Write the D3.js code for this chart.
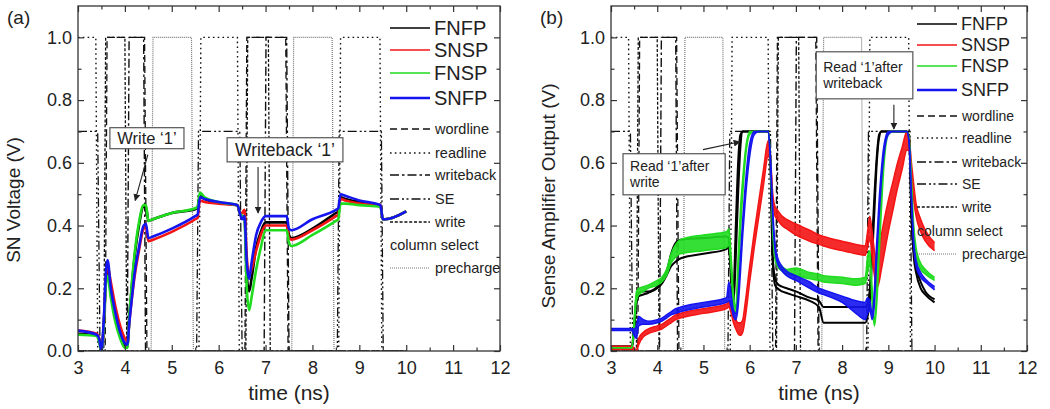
<!DOCTYPE html>
<html>
<head>
<meta charset="utf-8">
<script src="https://cdn.jsdelivr.net/npm/d3@7"></script>
<style>
  body { margin: 0; background: #fff; }
  svg text { font-family: Arial, "Liberation Sans", Helvetica, sans-serif; fill: #222; }
</style>
</head>
<body>
<svg id="chart" width="1050" height="409"></svg>
<script>
// ---------- axis setup ----------
const xDomain = [3, 12];
const yDomain = [0, 1.1];
const xMajorTicks = [3, 4, 5, 6, 7, 8, 9, 10, 11, 12];
const xMinorTicks = [3.5, 4.5, 5.5, 6.5, 7.5, 8.5, 9.5, 10.5, 11.5];
const yMajorTicks = [0, 0.2, 0.4, 0.6, 0.8, 1.0];
const yMinorTicks = [0.1, 0.3, 0.5, 0.7, 0.9];

// ---------- control signals (time ns, volts) ----------
const sigWordline  = [[3,0],[3.58,0],[3.62,1],[4.42,1],[4.47,0],[6.56,0],[6.6,1],[7.43,1],[7.48,0],[10,0]];
const sigReadline  = [[3,1],[3.38,1],[3.42,0],[5.58,0],[5.62,1],[6.4,1],[6.44,0],[8.56,0],[8.6,1],[9.44,1],[9.48,0],[10,0]];
const sigWriteback = [[3,0],[4.05,0],[4.09,1],[4.4,1],[4.44,0],[6.97,0],[7.01,1],[7.45,1],[7.5,0],[10,0]];
const sigSE        = [[3,0.7],[3.42,0.7],[3.47,0],[5.53,0],[5.57,0.7],[6.45,0.7],[6.5,0],[8.53,0],[8.57,0.7],[9.47,0.7],[9.51,0],[10,0]];
const sigWrite     = [[3,0],[3.55,0],[3.59,1],[4.0,1],[4.04,0],[6.58,0],[6.62,1],[7.06,1],[7.1,0],[10,0]];
const sigPrecharge = [[3,0],[4.56,0],[4.6,1],[5.42,1],[5.46,0],[7.56,0],[7.6,1],[8.42,1],[8.46,0],[10,0]];

// ---------- (a) storage node voltage ----------
const timeA = [3.0,3.4,3.45,3.5,3.55,3.6,3.63,3.7,3.8,3.9,4.0,4.05,4.1,4.15,4.2,4.3,4.4,4.45,4.5,4.6,
               5.0,5.5,5.55,5.6,5.7,6.0,6.4,6.45,6.5,6.55,6.6,6.65,6.7,6.8,6.9,7.0,7.45,7.5,7.55,8.0,
               8.5,8.55,8.6,8.7,9.0,9.45,9.5,9.55,10.0];
const snFNFP = [0.055,0.05,0.035,0.0,0.09,0.24,0.26,0.19,0.11,0.05,0.015,0.012,0.12,0.21,0.29,0.40,0.46,0.46,0.415,0.42,
                0.44,0.452,0.458,0.495,0.485,0.472,0.465,0.44,0.43,0.43,0.24,0.19,0.23,0.33,0.38,0.41,0.41,0.37,0.36,0.39,
                0.44,0.445,0.49,0.485,0.475,0.465,0.42,0.42,0.445];
const snSNSP = [0.065,0.055,0.04,0.005,0.08,0.24,0.27,0.22,0.14,0.08,0.04,0.03,0.10,0.17,0.23,0.32,0.39,0.395,0.35,0.355,
                0.38,0.42,0.425,0.48,0.475,0.47,0.465,0.44,0.44,0.45,0.30,0.24,0.26,0.32,0.37,0.40,0.40,0.36,0.355,0.385,
                0.43,0.435,0.485,0.48,0.47,0.465,0.42,0.42,0.445];
const snFNSP = [0.052,0.048,0.03,0.0,0.08,0.22,0.24,0.17,0.09,0.04,0.01,0.01,0.12,0.22,0.30,0.41,0.465,0.465,0.415,0.42,
                0.44,0.455,0.46,0.505,0.49,0.475,0.465,0.44,0.43,0.42,0.20,0.13,0.17,0.26,0.33,0.385,0.385,0.345,0.335,0.37,
                0.415,0.42,0.47,0.47,0.465,0.46,0.42,0.42,0.445];
const snSNFP = [0.065,0.052,0.04,0.0,0.10,0.26,0.29,0.20,0.12,0.06,0.025,0.02,0.10,0.17,0.24,0.33,0.40,0.405,0.36,0.365,
                0.39,0.43,0.435,0.49,0.485,0.475,0.465,0.44,0.42,0.43,0.28,0.23,0.28,0.37,0.41,0.43,0.43,0.39,0.385,0.42,
                0.45,0.455,0.50,0.495,0.48,0.465,0.42,0.42,0.445];

// ---------- (b) sense amplifier output (upper / lower envelope of runs) ----------
const timeB = [3.0,3.45,3.5,3.55,3.6,3.7,3.8,4.0,4.1,4.2,4.3,4.4,4.5,5.0,5.5,5.55,5.6,5.65,5.7,5.75,
               5.8,5.85,5.9,6.0,6.1,6.2,6.3,6.4,6.45,6.5,6.55,6.6,6.7,6.8,7.0,7.3,7.5,7.6,8.0,8.3,
               8.5,8.55,8.6,8.65,8.7,8.75,8.8,8.85,8.9,9.0,9.1,9.2,9.3,9.4,9.45,9.5,9.55,9.6,9.7,9.8,10.0];
const saFNFPhi = [0.015,0.015,0.08,0.17,0.185,0.19,0.19,0.205,0.225,0.25,0.31,0.345,0.355,0.36,0.365,0.36,0.25,0.2,0.4,0.6,
                  0.69,0.7,0.7,0.7,0.7,0.7,0.7,0.7,0.6,0.3,0.23,0.215,0.205,0.2,0.19,0.17,0.16,0.14,0.14,0.14,
                  0.14,0.15,0.2,0.35,0.5,0.62,0.69,0.7,0.7,0.7,0.7,0.7,0.7,0.7,0.68,0.45,0.32,0.27,0.22,0.19,0.165];
const saFNFPlo = [0.01,0.01,0.06,0.15,0.175,0.18,0.185,0.2,0.215,0.24,0.27,0.285,0.295,0.31,0.325,0.33,0.22,0.15,0.3,0.5,
                  0.65,0.7,0.7,0.7,0.7,0.7,0.7,0.7,0.6,0.28,0.21,0.2,0.19,0.185,0.175,0.16,0.14,0.09,0.09,0.09,
                  0.09,0.11,0.16,0.3,0.45,0.6,0.68,0.7,0.7,0.7,0.7,0.7,0.7,0.7,0.68,0.43,0.3,0.25,0.2,0.18,0.155];
const saSNSPhi = [0.015,0.015,0.01,0.0,0.04,0.06,0.07,0.08,0.085,0.095,0.105,0.115,0.12,0.135,0.15,0.155,0.14,0.12,0.1,0.09,
                  0.09,0.1,0.15,0.27,0.38,0.48,0.58,0.67,0.62,0.5,0.46,0.45,0.43,0.42,0.405,0.385,0.37,0.365,0.35,0.34,
                  0.335,0.38,0.43,0.38,0.32,0.3,0.33,0.37,0.41,0.48,0.54,0.6,0.65,0.7,0.68,0.6,0.53,0.47,0.42,0.385,0.345];
const saSNSPlo = [0.005,0.005,0.0,0.0,0.02,0.045,0.055,0.065,0.07,0.08,0.09,0.1,0.105,0.12,0.135,0.14,0.12,0.09,0.07,0.055,
                  0.05,0.06,0.1,0.22,0.33,0.43,0.53,0.62,0.6,0.48,0.43,0.42,0.4,0.39,0.37,0.35,0.34,0.335,0.32,0.31,
                  0.305,0.33,0.36,0.3,0.24,0.2,0.22,0.26,0.3,0.38,0.45,0.52,0.58,0.64,0.64,0.55,0.48,0.43,0.38,0.35,0.32];
const saFNSPhi = [0.01,0.01,0.1,0.19,0.2,0.205,0.21,0.225,0.235,0.26,0.31,0.34,0.355,0.37,0.38,0.39,0.3,0.18,0.14,0.3,
                  0.45,0.55,0.63,0.7,0.7,0.7,0.7,0.7,0.62,0.4,0.31,0.285,0.27,0.26,0.265,0.25,0.245,0.24,0.235,0.23,
                  0.235,0.3,0.32,0.2,0.09,0.2,0.38,0.52,0.62,0.7,0.7,0.7,0.7,0.7,0.68,0.55,0.4,0.33,0.28,0.26,0.235];
const saFNSPlo = [0.01,0.01,0.07,0.16,0.18,0.19,0.2,0.21,0.22,0.24,0.28,0.3,0.31,0.32,0.33,0.34,0.25,0.14,0.12,0.22,
                  0.38,0.5,0.6,0.69,0.7,0.7,0.7,0.7,0.6,0.38,0.29,0.27,0.255,0.245,0.24,0.23,0.225,0.22,0.215,0.21,
                  0.215,0.25,0.28,0.15,0.08,0.15,0.3,0.45,0.58,0.69,0.7,0.7,0.7,0.7,0.67,0.5,0.37,0.3,0.26,0.245,0.225];
const saSNFPhi = [0.072,0.072,0.07,0.08,0.11,0.1,0.095,0.1,0.105,0.115,0.125,0.135,0.14,0.155,0.17,0.22,0.18,0.13,0.12,0.18,
                  0.3,0.42,0.52,0.66,0.7,0.7,0.7,0.7,0.62,0.45,0.34,0.3,0.27,0.255,0.24,0.22,0.2,0.195,0.175,0.16,
                  0.155,0.17,0.16,0.12,0.2,0.35,0.48,0.58,0.65,0.7,0.7,0.7,0.7,0.7,0.67,0.5,0.35,0.29,0.25,0.23,0.205];
const saSNFPlo = [0.065,0.065,0.05,0.04,0.08,0.085,0.085,0.09,0.095,0.105,0.115,0.12,0.125,0.14,0.155,0.16,0.14,0.11,0.1,0.14,
                  0.25,0.37,0.47,0.62,0.69,0.7,0.7,0.7,0.6,0.42,0.32,0.28,0.255,0.24,0.225,0.2,0.185,0.18,0.155,0.12,
                  0.1,0.12,0.13,0.1,0.15,0.3,0.43,0.54,0.62,0.69,0.7,0.7,0.7,0.7,0.66,0.48,0.33,0.27,0.235,0.22,0.195];

// ---------- legend text ----------
const cornerNames = ["FNFP", "SNSP", "FNSP", "SNFP"];
const cornerColors = ["#000000", "#f41414", "#1fdc1f", "#1414f0"];
const signalNames = ["wordline", "readline", "writeback", "SE", "write", "column select", "precharge"];

// line styles of the control signals (column select has no drawn trace)
const signalStyles = [
  { pts: sigWordline,  dash: "7,4",            color: "#111", width: 1.3 },
  { pts: sigReadline,  dash: "1.6,3.2",        color: "#111", width: 1.4 },
  { pts: sigWriteback, dash: "9,3,2.5,3",      color: "#111", width: 1.4 },
  { pts: sigSE,        dash: "9,3,2,2.5,2,3",  color: "#111", width: 1.3 },
  { pts: sigWrite,     dash: "3,1.8",          color: "#111", width: 1.3 },
  null,
  { pts: sigPrecharge, dash: "1,1",            color: "#777", width: 1.2 }
];

const svg = d3.select("#chart");
const plotTop = 6, plotBottom = 351;

const defs = svg.append("defs");
defs.append("marker").attr("id", "arrowHead")
  .attr("viewBox", "0 0 10 10").attr("refX", 9).attr("refY", 5)
  .attr("markerWidth", 7).attr("markerHeight", 7).attr("orient", "auto-start-reverse")
  .attr("markerUnits", "userSpaceOnUse")
  .append("path").attr("d", "M0,0 L10,5 L0,10 z").attr("fill", "#222");

function drawPanel(p, idx) {
  const x = d3.scaleLinear().domain(xDomain).range([p.left, p.right]);
  const y = d3.scaleLinear().domain(yDomain).range([plotBottom, plotTop]);
  const g = svg.append("g");

  defs.append("clipPath").attr("id", "clip" + idx)
    .append("rect").attr("x", p.left).attr("y", plotTop)
    .attr("width", p.right - p.left).attr("height", plotBottom - plotTop);
  const plot = g.append("g").attr("clip-path", `url(#clip${idx})`);

  const line = d3.line().x(d => x(d[0])).y(d => y(d[1]));
  const smooth = d3.line().x(d => x(d[0])).y(d => y(d[1])).curve(d3.curveMonotoneX);

  // control signals
  signalStyles.forEach(s => {
    if (!s) return;
    plot.append("path").datum(s.pts).attr("d", line)
      .attr("fill", "none").attr("stroke", s.color)
      .attr("stroke-width", s.width).attr("stroke-dasharray", s.dash);
  });

  // simulated corner traces
  if (p.single) {
    p.series.forEach((vals, i) => {
      plot.append("path").datum(d3.zip(p.time, vals)).attr("d", smooth)
        .attr("fill", "none").attr("stroke", cornerColors[i])
        .attr("stroke-width", 2.6).attr("stroke-linejoin", "round");
    });
  } else {
    p.series.forEach((pair, i) => {
      const [hi, lo] = pair;
      const rows = p.time.map((t, k) => ({ t, hi: hi[k], lo: lo[k] }));
      if (i > 0) {
        plot.append("path").datum(rows)
          .attr("d", d3.area().x(d => x(d.t)).y0(d => y(d.lo)).y1(d => y(d.hi)).curve(d3.curveMonotoneX))
          .attr("fill", cornerColors[i]).attr("opacity", 0.9);
      }
      [hi, lo].forEach(vals => {
        plot.append("path").datum(d3.zip(p.time, vals)).attr("d", smooth)
          .attr("fill", "none").attr("stroke", cornerColors[i])
          .attr("stroke-width", i === 0 ? 2 : 1.5).attr("stroke-linejoin", "round");
      });
    });
  }

  // axes (ticks point inward on all four sides)
  const styleAxis = sel => {
    sel.select(".domain").remove();
    sel.selectAll(".tick line").attr("stroke", "#333").attr("stroke-width", 1.2);
    sel.selectAll(".tick text").attr("font-size", 18).attr("fill", "#222");
  };
  g.append("g").attr("transform", `translate(0,${plotBottom})`)
    .call(d3.axisBottom(x).tickValues(xMajorTicks).tickSizeInner(-6).tickSizeOuter(0).tickPadding(10).tickFormat(d3.format("d")))
    .call(styleAxis);
  g.append("g").attr("transform", `translate(0,${plotBottom})`)
    .call(d3.axisBottom(x).tickValues(xMinorTicks).tickSizeInner(-3.5).tickSizeOuter(0).tickFormat(""))
    .call(styleAxis);
  g.append("g").attr("transform", `translate(0,${plotTop})`)
    .call(d3.axisTop(x).tickValues(xMajorTicks).tickSizeInner(-6).tickSizeOuter(0).tickFormat(""))
    .call(styleAxis);
  g.append("g").attr("transform", `translate(0,${plotTop})`)
    .call(d3.axisTop(x).tickValues(xMinorTicks).tickSizeInner(-3.5).tickSizeOuter(0).tickFormat(""))
    .call(styleAxis);
  g.append("g").attr("transform", `translate(${p.left},0)`)
    .call(d3.axisLeft(y).tickValues(yMajorTicks).tickSizeInner(-6).tickSizeOuter(0).tickPadding(6).tickFormat(d3.format(".1f")))
    .call(styleAxis);
  g.append("g").attr("transform", `translate(${p.left},0)`)
    .call(d3.axisLeft(y).tickValues(yMinorTicks).tickSizeInner(-3.5).tickSizeOuter(0).tickFormat(""))
    .call(styleAxis);
  g.append("g").attr("transform", `translate(${p.right},0)`)
    .call(d3.axisRight(y).tickValues(yMajorTicks).tickSizeInner(-6).tickSizeOuter(0).tickFormat(""))
    .call(styleAxis);
  g.append("g").attr("transform", `translate(${p.right},0)`)
    .call(d3.axisRight(y).tickValues(yMinorTicks).tickSizeInner(-3.5).tickSizeOuter(0).tickFormat(""))
    .call(styleAxis);

  g.append("rect").attr("x", p.left).attr("y", plotTop)
    .attr("width", p.right - p.left).attr("height", plotBottom - plotTop)
    .attr("fill", "none").attr("stroke", "#333").attr("stroke-width", 1.3);

  // titles
  g.append("text").attr("x", (p.left + p.right) / 2).attr("y", 400)
    .attr("text-anchor", "middle").attr("font-size", 21).text("time (ns)");
  g.append("text").attr("transform", `translate(${p.yTitleX},${p.yTitleY}) rotate(-90)`)
    .attr("text-anchor", "middle").attr("font-size", 19).text(p.yTitle);
  g.append("text").attr("x", p.tagX).attr("y", 24).attr("font-size", 19).text(p.tag);

  // legend
  const lx0 = p.right - 110, lx1 = p.right - 70;
  cornerNames.forEach((name, i) => {
    const ly = p.legMainY[i];
    g.append("line").attr("x1", lx0).attr("x2", lx1).attr("y1", ly).attr("y2", ly)
      .attr("stroke", cornerColors[i]).attr("stroke-width", i === 3 ? 2.6 : 1.6);
    g.append("text").attr("x", lx1 + 4).attr("y", ly).attr("dy", "0.35em")
      .attr("font-size", p.legMainSize).text(name);
  });
  signalNames.forEach((name, i) => {
    const ly = p.legSigY[i];
    const s = signalStyles[i];
    if (s) {
      g.append("line").attr("x1", lx0).attr("x2", lx1).attr("y1", ly).attr("y2", ly)
        .attr("stroke", s.color).attr("stroke-width", s.width).attr("stroke-dasharray", s.dash);
    }
    g.append("text").attr("x", s ? lx1 + 5 : lx0).attr("y", ly).attr("dy", "0.35em")
      .attr("font-size", p.legSigSize).text(name);
  });

  // annotations
  p.notes.forEach(n => {
    const bx = x(n.box[0]), by = y(n.box[1]);
    const bw = x(n.box[2]) - bx, bh = y(n.box[3]) - by;
    g.append("rect").attr("x", bx).attr("y", by).attr("width", bw).attr("height", bh)
      .attr("fill", "#fff").attr("stroke", "#555").attr("stroke-width", 1.2);
    n.lines.forEach((txt, k) => {
      g.append("text")
        .attr("x", n.center ? bx + bw / 2 : bx + 7)
        .attr("y", by + bh / 2 + (k - (n.lines.length - 1) / 2) * n.size * 1.15)
        .attr("dy", "0.36em").attr("text-anchor", n.center ? "middle" : "start")
        .attr("font-size", n.size).text(txt);
    });
    g.append("line")
      .attr("x1", x(n.arrow[0])).attr("y1", y(n.arrow[1]))
      .attr("x2", x(n.arrow[2])).attr("y2", y(n.arrow[3]))
      .attr("stroke", "#222").attr("stroke-width", 1.1).attr("marker-end", "url(#arrowHead)");
  });
}

drawPanel({
  left: 78, right: 500, tag: "(a)", tagX: 7,
  yTitle: "SN Voltage (V)", yTitleX: 20, yTitleY: 200,
  single: true, time: timeA, series: [snFNFP, snSNSP, snFNSP, snSNFP],
  legMainY: [28, 50, 73, 98], legMainSize: 20,
  legSigY: [129, 153, 175, 199, 222, 245, 268], legSigSize: 14.5,
  notes: [
    { box: [3.68, 0.712, 5.26, 0.645], lines: ["Write \u20181\u2019"], size: 16.5, center: true,
      arrow: [4.49, 0.626, 4.22, 0.48] },
    { box: [6.18, 0.68, 8.65, 0.603], lines: ["Writeback \u20181\u2019"], size: 17.5, center: true,
      arrow: [6.84, 0.587, 6.84, 0.44] }
  ]
}, 0);

drawPanel({
  left: 611, right: 1027, tag: "(b)", tagX: 540,
  yTitle: "Sense Amplifier Output (V)", yTitleX: 555, yTitleY: 196,
  single: false, time: timeB,
  series: [[saFNFPhi, saFNFPlo], [saSNSPhi, saSNSPlo], [saFNSPhi, saFNSPlo], [saSNFPhi, saSNFPlo]],
  legMainY: [24, 45, 66, 90], legMainSize: 18,
  legSigY: [116, 138, 162, 184, 207, 231, 254], legSigSize: 14,
  notes: [
    { box: [3.26, 0.629, 5.47, 0.498], lines: ["Read \u20181\u2019after", "write"], size: 14, center: false,
      arrow: [4.99, 0.642, 5.79, 0.667] },
    { box: [7.44, 0.954, 9.53, 0.804], lines: ["Read \u20181\u2019after", "writeback"], size: 14, center: false,
      arrow: [9.12, 0.785, 9.12, 0.708] }
  ]
}, 1);
</script>
</body>
</html>
